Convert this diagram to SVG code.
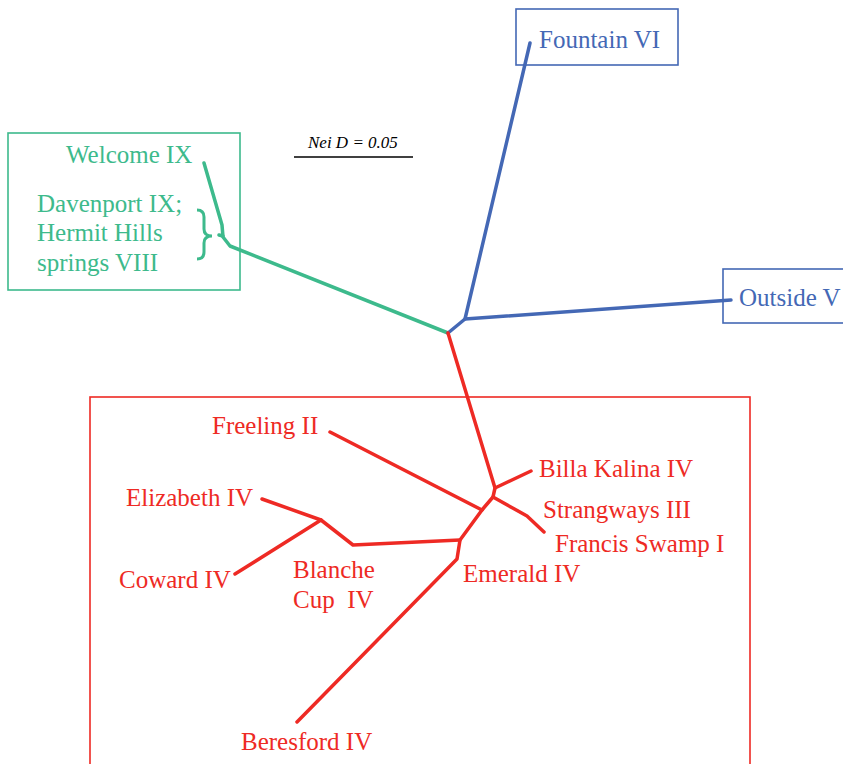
<svg xmlns="http://www.w3.org/2000/svg" width="843" height="764" viewBox="0 0 843 764">
<style>
.t{font-family:"Liberation Serif","Times New Roman",serif;font-size:25px}
.g{fill:#3dba8c}.b{fill:#4468b5}.r{fill:#ee2a24}
.box{fill:none;stroke-width:1.6}
.e{fill:none;stroke-width:3.5;stroke-linecap:round;stroke-linejoin:round}
</style>
<rect width="843" height="764" fill="#fff"/>
<g id="scale">
<text x="308" y="148" font-family="'Liberation Serif',serif" font-style="italic" font-size="17">Nei D = 0.05</text>
<line x1="294" y1="157" x2="413" y2="157" stroke="#000" stroke-width="1.5"/>
</g>
<g id="green-group">
<rect class="box" x="8" y="133" width="232" height="157" stroke="#3dba8c"/>
<text class="t g" x="66" y="163">Welcome IX</text>
<text class="t g" x="37" y="212">Davenport IX;</text>
<text class="t g" x="37" y="241">Hermit Hills</text>
<text class="t g" x="37" y="271">springs VIII</text>
<path d="M197 210 Q204 210 204 217 L204 229 Q204 236 212 236 Q204 236 204 243 L204 252 Q204 259 197 259" fill="none" stroke="#3dba8c" stroke-width="3"/>
</g>
<g id="fountain">
<rect class="box" x="516" y="9" width="162" height="56" stroke="#4468b5"/>
<text class="t b" x="539" y="48">Fountain VI</text>
</g>
<g id="outside">
<rect class="box" x="723" y="269" width="130" height="54" stroke="#4468b5"/>
<text class="t b" x="739" y="306">Outside V</text>
</g>
<g id="red-group">
<rect class="box" x="90" y="397" width="660" height="380" stroke="#ee2a24"/>
<text class="t r" x="212" y="434">Freeling II</text>
<text class="t r" x="126" y="506">Elizabeth IV</text>
<text class="t r" x="119" y="588">Coward IV</text>
<text class="t r" x="293" y="578">Blanche</text>
<text class="t r" x="293" y="608" xml:space="preserve">Cup  IV</text>
<text class="t r" x="539" y="477">Billa Kalina IV</text>
<text class="t r" x="543" y="518">Strangways III</text>
<text class="t r" x="555" y="552">Francis Swamp I</text>
<text class="t r" x="463" y="582">Emerald IV</text>
<text class="t r" x="241" y="750">Beresford IV</text>
</g>
<g id="connectors">
<path class="e" stroke="#3dba8c" d="M448 333 L230 246 L223 237 L222 225 L204 163"/>
<path class="e" stroke="#3dba8c" stroke-width="2.5" d="M219 235 L223 236"/>
<path class="e" stroke="#4468b5" d="M448 333 L465 319 L530 43"/>
<path class="e" stroke="#4468b5" d="M465 319 L731 300"/>
<path class="e" stroke="#ee2a24" d="M448 333 L495 488 L531 471"/>
<path class="e" stroke="#ee2a24" d="M495 488 L493 497 L527 516 L544 532"/>
<path class="e" stroke="#ee2a24" d="M493 497 L482 510 L460 540 L457 559 L297 722"/>
<path class="e" stroke="#ee2a24" d="M330 432 L482 510"/>
<path class="e" stroke="#ee2a24" d="M460 540 L353 545 L321 520 L262 499"/>
<path class="e" stroke="#ee2a24" d="M321 520 L235 574"/>
</g>
</svg>
